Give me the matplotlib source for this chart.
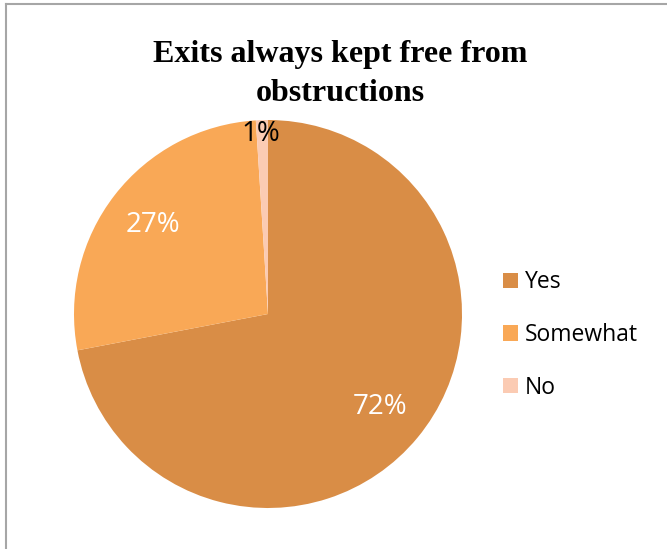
import matplotlib.pyplot as plt
from matplotlib.lines import Line2D
import numpy as np

# Chart data
labels = ['Yes', 'Somewhat', 'No']
values = [72, 27, 1]
colors = ['#D98D46', '#F9A856', '#FBCBB3']
title = 'Exits always kept free from\nobstructions'


def main():
    fig = plt.figure(figsize=(6.67, 5.49), dpi=100)
    W, H = 667, 549

    # Square axes holding the pie (pixel box converted to figure fractions)
    ax = fig.add_axes([74 / W, 41 / H, 388 / W, 388 / H])
    wedges, texts, autotexts = ax.pie(
        values, colors=colors, startangle=90, counterclock=False,
        autopct='%1.0f%%', pctdistance=0.75, radius=1,
        textprops={'family': 'Open Sans', 'fontsize': 20, 'color': 'white'},
        wedgeprops={'linewidth': 0})
    ax.set_xlim(-1, 1)
    ax.set_ylim(-1, 1)

    # Small slice label sits near the rim in black
    w = wedges[2]
    mid = np.deg2rad((w.theta1 + w.theta2) / 2)
    autotexts[2].set_position((0.93 * np.cos(mid) - 0.01, 0.93 * np.sin(mid)))
    autotexts[2].set_color('black')

    # Title
    fig.text(340 / W, 1 - 74 / H, title, ha='center', va='center',
             family='Liberation Serif', fontweight='bold', fontsize=23,
             linespacing=1.42)

    # Legend
    fig.legend(wedges, labels, loc='center left',
               bbox_to_anchor=(503 / W, 1 - 335 / H), frameon=False,
               prop={'family': 'Open Sans', 'size': 16.5},
               handlelength=0.65, handleheight=0.65, handletextpad=0.3,
               labelspacing=1.25, borderpad=0, borderaxespad=0)

    # Outer chart border (left and top edges visible)
    fig.add_artist(Line2D([5.5 / W, 5.5 / W], [0, 1 - 3.5 / H],
                          color='#A6A6A6', lw=1.5))
    fig.add_artist(Line2D([5.5 / W, 1], [1 - 3.5 / H, 1 - 3.5 / H],
                          color='#A6A6A6', lw=1.5))

    fig.savefig('out.png', dpi=100)
    plt.close(fig)


if __name__ == "__main__":
    main()
